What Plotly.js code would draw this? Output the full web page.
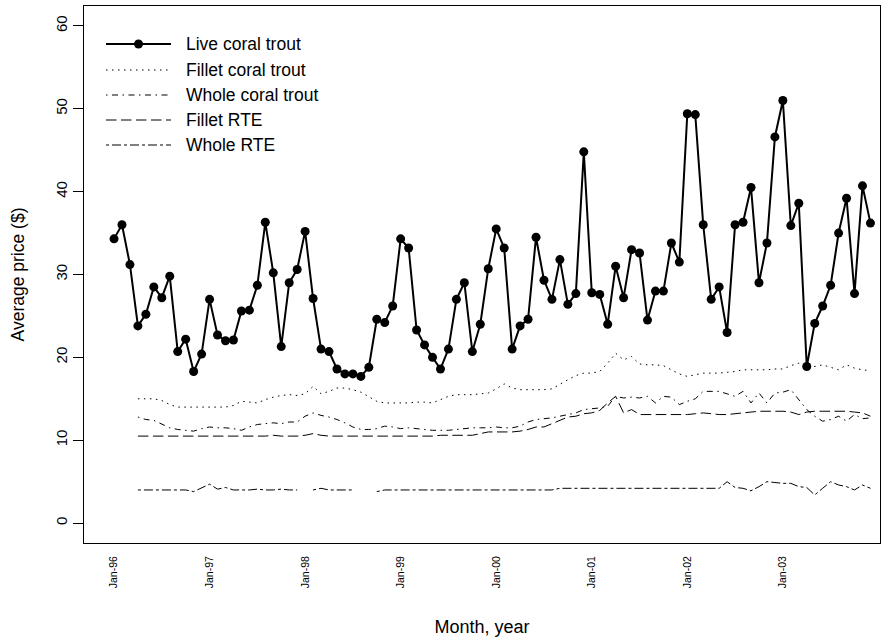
<!DOCTYPE html>
<html>
<head>
<meta charset="utf-8">
<script src="https://cdn.plot.ly/plotly-3.0.1.min.js"></script>
<style>
  html, body { margin: 0; padding: 0; background: #fff; }
  #chart { width: 890px; height: 639px; }
</style>
</head>
<body>
<div id="chart"></div>
<script>
// Monthly average prices, Jan-96 .. Dec-03 (96 months); null = no observation
const yearTickLabels = ["Jan-96", "Jan-97", "Jan-98", "Jan-99", "Jan-00", "Jan-01", "Jan-02", "Jan-03"];
const seriesNames = ["Live coral trout", "Fillet coral trout", "Whole coral trout", "Fillet RTE", "Whole RTE"];

const liveCoralTrout = [
  34.3, 36.0, 31.2, 23.8, 25.2, 28.5, 27.2, 29.8, 20.7, 22.2, 18.3, 20.4,
  27.0, 22.7, 22.0, 22.1, 25.6, 25.7, 28.7, 36.3, 30.2, 21.3, 29.0, 30.6,
  35.2, 27.1, 21.0, 20.7, 18.6, 18.0, 18.0, 17.7, 18.8, 24.6, 24.2, 26.2,
  34.3, 33.2, 23.3, 21.5, 20.0, 18.6, 21.0, 27.0, 29.0, 20.7, 24.0, 30.7,
  35.5, 33.2, 21.0, 23.8, 24.6, 34.5, 29.3, 27.0, 31.8, 26.4, 27.7, 44.8,
  27.8, 27.6, 24.0, 31.0, 27.2, 33.0, 32.6, 24.5, 28.0, 28.0, 33.8, 31.5,
  49.4, 49.3, 36.0, 27.0, 28.5, 23.0, 36.0, 36.3, 40.5, 29.0, 33.8, 46.6,
  51.0, 35.9, 38.6, 18.9, 24.1, 26.2, 28.7, 35.0, 39.2, 27.7, 40.7, 36.2
];
const filletCoralTrout = [
  null, null, null, 15.0, 15.0, 15.0, 14.8, 14.3, 14.0, 14.0, 14.0, 14.0,
  14.0, 14.0, 14.0, 14.2, 14.7, 14.6, 14.5, 14.9, 15.2, 15.4, 15.5, 15.4,
  15.6, 16.5, 15.6, 15.9, 16.3, 16.3, 16.1, 15.8, 15.3, 14.7, 14.5, 14.5,
  14.5, 14.5, 14.6, 14.6, 14.5, 14.9, 15.3, 15.5, 15.5, 15.5, 15.6, 15.7,
  16.2, 16.8, 16.3, 16.1, 16.1, 16.1, 16.1, 16.2, 16.8, 17.3, 17.8, 18.1,
  18.1, 18.3, 19.3, 20.5, 19.7, 20.1, 19.2, 19.1, 19.1, 19.0, 18.5, 18.0,
  17.7, 17.9, 18.1, 18.1, 18.1, 18.2, 18.3, 18.5, 18.5, 18.5, 18.5, 18.6,
  18.6, 19.0, 19.3, 18.7, 18.9, 19.1, 18.8, 18.5, 19.1, 18.7, 18.5, 18.4
];
const wholeCoralTrout = [
  null, null, null, 12.8, 12.5, 12.4, 11.9, 11.5, 11.3, 11.2, 11.1, 11.4,
  11.6, 11.5, 11.5, 11.4, 11.2, 11.6, 11.9, 12.0, 12.1, 12.0, 12.2, 12.2,
  12.9, 13.3, 13.0, 12.8, 12.5, 12.1, 11.6, 11.3, 11.3, 11.4, 11.7, 11.6,
  11.4, 11.5, 11.4, 11.3, 11.2, 11.2, 11.2, 11.3, 11.4, 11.5, 11.5, 11.5,
  11.6, 11.5, 11.5, 11.7, 12.2, 12.5, 12.6, 12.7, 12.9, 13.1, 13.3, 13.7,
  13.8, 13.9, 14.1, 15.3, 15.1, 15.2, 15.1, 15.3, 14.5, 15.3, 15.2, 14.3,
  14.7, 15.0, 15.9, 15.9, 15.9, 15.6, 15.3, 15.9, 14.5, 15.7, 14.5, 15.7,
  15.8, 16.1, 14.9, 13.7, 12.9, 12.3, 12.5, 12.9, 12.3, 13.1, 12.6, 12.7
];
const filletRTE = [
  null, null, null, 10.5, 10.5, 10.5, 10.5, 10.5, 10.5, 10.5, 10.5, 10.5,
  10.5, 10.5, 10.5, 10.5, 10.5, 10.5, 10.5, 10.5, 10.6, 10.5, 10.5, 10.5,
  10.6, 10.8, 10.6, 10.5, 10.5, 10.5, 10.5, 10.5, 10.5, 10.5, 10.5, 10.5,
  10.5, 10.5, 10.5, 10.5, 10.5, 10.6, 10.6, 10.6, 10.6, 10.6, 10.8, 11.0,
  11.0, 11.0, 11.0, 11.1, 11.3, 11.6, 11.6, 12.0, 12.4, 12.8, 12.9, 13.2,
  13.3, 13.6, 14.5, 15.3, 13.3, 13.7, 13.1, 13.1, 13.1, 13.1, 13.1, 13.1,
  13.1, 13.2, 13.3, 13.2, 13.1, 13.1, 13.2, 13.3, 13.4, 13.5, 13.5, 13.5,
  13.5, 13.4, 13.1, 13.4, 13.5, 13.5, 13.5, 13.5, 13.5, 13.4, 13.3, 12.9
];
const wholeRTE = [
  null, null, null, 4.0, 4.0, 4.0, 4.0, 4.0, 4.0, 4.0, 3.8, 4.3,
  4.7, 4.1, 4.3, 4.0, 4.0, 4.0, 4.1, 4.0, 4.0, 4.1, 4.0, 4.0,
  null, 4.0, 4.2, 4.0, 4.0, 4.0, 4.0, null, null, 3.8, 4.0, 4.0,
  4.0, 4.0, 4.0, 4.0, 4.0, 4.0, 4.0, 4.0, 4.0, 4.0, 4.0, 4.0,
  4.0, 4.0, 4.0, 4.0, 4.0, 4.0, 4.0, 4.0, 4.2, 4.2, 4.2, 4.2,
  4.2, 4.2, 4.2, 4.2, 4.2, 4.2, 4.2, 4.2, 4.2, 4.2, 4.2, 4.2,
  4.2, 4.2, 4.2, 4.2, 4.2, 5.0, 4.3, 4.2, 3.9, 4.4, 5.0, 4.9,
  4.8, 4.8, 4.4, 4.3, 3.4, 4.2, 5.0, 4.6, 4.4, 4.0, 4.6, 4.2
];

const monthIndex = liveCoralTrout.map((_, i) => i + 1);
const yearTickPositions = yearTickLabels.map((_, i) => 1 + 12 * i);

const FONT = "Liberation Sans, Arial, Helvetica, sans-serif";
const dashes = [null, "1.5px,4.5px", "1.5px,4.5px,6px,4.5px", "10.5px,4.5px", "3px,3px,9px,3px"];
const dataSets = [liveCoralTrout, filletCoralTrout, wholeCoralTrout, filletRTE, wholeRTE];

const traces = dataSets.slice(1).map((vals, k) => ({
  x: monthIndex, y: vals, type: "scatter", mode: "lines",
  name: seriesNames[k + 1], connectgaps: false, showlegend: false,
  line: { color: "#000", width: 1, dash: dashes[k + 1] }
}));
traces.push({
  x: monthIndex, y: liveCoralTrout, type: "scatter", mode: "lines+markers",
  name: seriesNames[0], showlegend: false,
  line: { color: "#000", width: 2 },
  marker: { color: "#000", size: 9, symbol: "circle" }
});

// hand-drawn legend (paper coords)
const shapes = [];
const annotations = [];
const legX0 = 106, legX1 = 171, legTextX = 184;
const legY = [44, 70, 95, 120, 145];
const W = 890, H = 639, L = 84, R = 10, T = 6, B = 96;
const px2x = px => (px - L) / (W - L - R);
const px2y = py => 1 - (py - T) / (H - T - B);
seriesNames.forEach((name, k) => {
  shapes.push({
    type: "line", xref: "paper", yref: "paper",
    x0: px2x(legX0), x1: px2x(legX1), y0: px2y(legY[k]), y1: px2y(legY[k]),
    line: { color: "#000", width: k === 0 ? 2 : 1, dash: k === 0 ? "solid" : dashes[k] }
  });
  annotations.push({
    xref: "paper", yref: "paper", x: px2x(legTextX), y: px2y(legY[k]),
    xanchor: "left", yanchor: "middle", showarrow: false, text: name,
    font: { family: FONT, size: 17.5, color: "#000" }
  });
});
shapes.push({
  type: "circle", xref: "paper", yref: "paper",
  x0: px2x(138.5 - 4.5), x1: px2x(138.5 + 4.5), y0: px2y(legY[0] - 4.5), y1: px2y(legY[0] + 4.5),
  fillcolor: "#000", line: { color: "#000", width: 0 }
});

const layout = {
  width: W, height: H,
  margin: { l: L, r: R, t: T, b: B },
  paper_bgcolor: "#fff", plot_bgcolor: "#fff",
  font: { family: FONT, color: "#000" },
  showlegend: false,
  xaxis: {
    range: [-2.77, 97.2], showgrid: false, zeroline: false,
    tickmode: "array", tickvals: yearTickPositions, ticktext: yearTickLabels,
    tickangle: -90, ticks: "", ticklabelstandoff: 8,
    tickfont: { family: FONT, size: 10.5, color: "#000" },
    showline: true, mirror: true, linecolor: "#000", linewidth: 1,
    title: { text: "Month, year", font: { family: FONT, size: 18, color: "#000" }, standoff: 33 }
  },
  yaxis: {
    range: [-2.4, 62.4], showgrid: false, zeroline: false,
    tickmode: "array", tickvals: [0, 10, 20, 30, 40, 50, 60],
    ticks: "outside", ticklen: 10, tickcolor: "#000", tickangle: -90,
    tickfont: { family: FONT, size: 15, color: "#000" },
    showline: true, mirror: true, linecolor: "#000", linewidth: 1,
    title: { text: "Average price ($)", font: { family: FONT, size: 17.5, color: "#000" }, standoff: 23 }
  },
  shapes: shapes,
  annotations: annotations
};

Plotly.newPlot("chart", traces, layout, { displayModeBar: false, staticPlot: true });
</script>
</body>
</html>
